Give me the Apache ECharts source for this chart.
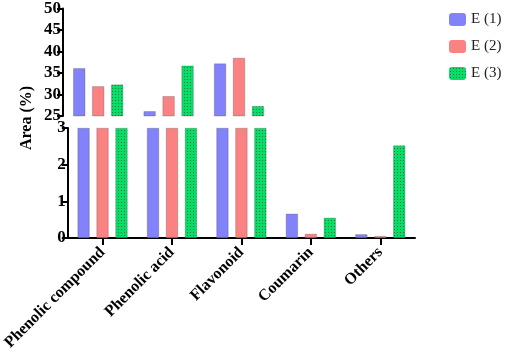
<!DOCTYPE html>
<html><head><meta charset="utf-8">
<script src="https://cdn.jsdelivr.net/npm/echarts@6/dist/echarts.min.js"></script>
<style>html,body{margin:0;padding:0;background:#fff}#c{width:505px;height:353px}</style>
</head><body><div id="c"></div>
<script>
const categories = ['Phenolic compound','Phenolic acid','Flavonoid','Coumarin','Others'];
const seriesNames = ['E (1)','E (2)','E (3)'];
const e1 = [36.1, 26.1, 37.2, 0.66, 0.10];
const e2 = [31.9, 29.6, 38.5, 0.11, 0.05];
const e3 = [32.3, 36.7, 27.3, 0.55, 2.52];
const topTicks = [25, 50, 5];   // min, max, interval
const bottomTicks = [0, 3, 1];

const FONT = '"Liberation Serif", "DejaVu Serif", serif';

function dotPattern() {
  const c = document.createElement('canvas');
  c.width = 3; c.height = 3;
  const g = c.getContext('2d');
  g.fillStyle = '#0adc68'; g.fillRect(0,0,3,3);
  g.fillStyle = '#1a7a45'; g.fillRect(1,1,1,1);
  return c;
}
const colors = ['#8282fa', '#fa8282', {image: dotPattern(), repeat: 'repeat'}];
const data = [e1, e2, e3];

const chart = echarts.init(document.getElementById('c'), null, {renderer: 'canvas'});
const series = [];
data.forEach((arr, i) => {
  const common = {
    type: 'bar', name: seriesNames[i], barWidth: 12, barGap: '58%',
    itemStyle: {color: colors[i], borderColor: 'rgba(60,60,60,0.5)', borderWidth: 0.5},
    clip: true, emphasis: {disabled: true}
  };
  series.push(Object.assign({}, common, {xAxisIndex: 0, yAxisIndex: 0,
    data: arr.map(v => v > topTicks[0] ? v : '-')}));
  series.push(Object.assign({}, common, {xAxisIndex: 1, yAxisIndex: 1,
    data: arr.map(v => Math.min(v, bottomTicks[1]))}));
});

const axisLine = {show: true, lineStyle: {color: '#000', width: 2}};
chart.setOption({
  animation: false,
  legend: {
    orient: 'vertical', left: 444, top: 7, itemWidth: 17, itemHeight: 13, itemGap: 12,
    data: seriesNames, textStyle: {fontFamily: FONT, fontSize: 15, color: '#222'},
    itemStyle: {borderWidth: 0}
  },
  grid: [
    {left: 63, top: 7, width: 352, height: 109},
    {left: 63, top: 128, width: 352, height: 110}
  ],
  xAxis: [
    {type: 'category', gridIndex: 0, data: categories, show: false},
    {type: 'category', gridIndex: 1, data: categories,
      axisLine: axisLine,
      axisTick: {show: true, alignWithLabel: true, length: 7, lineStyle: {color: '#000', width: 2}},
      axisLabel: {rotate: 45, margin: 12, fontFamily: FONT, fontWeight: 'bold', fontSize: 16, color: '#000'}}
  ],
  yAxis: [
    {type: 'value', gridIndex: 0, min: topTicks[0], max: topTicks[1], interval: topTicks[2],
      axisLine: axisLine, splitLine: {show: false},
      axisTick: {show: true, length: 6, lineStyle: {color: '#000', width: 2}},
      axisLabel: {margin: 2, fontFamily: FONT, fontWeight: 'bold', fontSize: 17, color: '#000'}},
    {type: 'value', gridIndex: 1, min: bottomTicks[0], max: bottomTicks[1], interval: bottomTicks[2],
      axisLine: axisLine, splitLine: {show: false},
      axisTick: {show: true, length: 6, lineStyle: {color: '#000', width: 2}},
      axisLabel: {margin: 2, fontFamily: FONT, fontWeight: 'bold', fontSize: 17, color: '#000'}}
  ],
  graphic: [{
    type: 'text', x: 27, y: 118, rotation: Math.PI / 2,
    style: {text: 'Area (%)', fontFamily: FONT, fontWeight: 'bold', fontSize: 16, fill: '#000',
      textAlign: 'center', textVerticalAlign: 'middle'}
  }],
  series: series
});
</script></body></html>
